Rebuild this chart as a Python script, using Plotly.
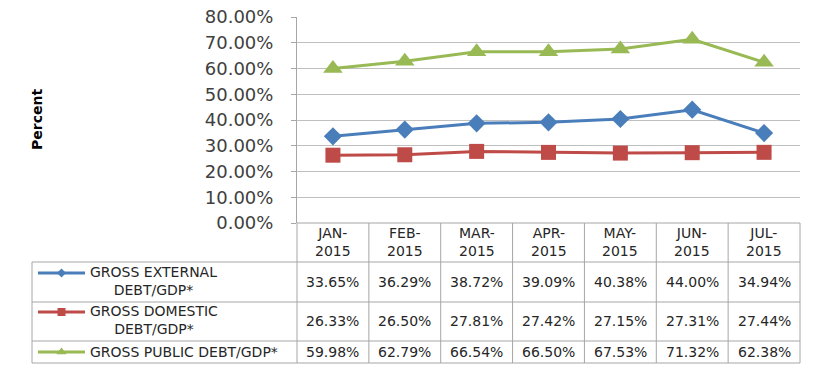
import plotly.graph_objects as go

# ---- data ----
months = ["JAN-2015", "FEB-2015", "MAR-2015", "APR-2015", "MAY-2015", "JUN-2015", "JUL-2015"]
external = [33.65, 36.29, 38.72, 39.09, 40.38, 44.00, 34.94]
domestic = [26.33, 26.50, 27.81, 27.42, 27.15, 27.31, 27.44]
public = [59.98, 62.79, 66.54, 66.50, 67.53, 71.32, 62.38]
series_names = ["GROSS EXTERNAL<br>DEBT/GDP*", "GROSS DOMESTIC<br>DEBT/GDP*", "GROSS PUBLIC DEBT/GDP*"]
y_ticks = [0, 10, 20, 30, 40, 50, 60, 70, 80]

# ---- styles ----
W, H = 823, 369
OFF = 8  # page body margin offset
colors = ["#4A7EBB", "#BE4B48", "#98B954"]
symbols = ["diamond", "square", "triangle-up"]
msizes = [14, 15, 17]
key_sizes = [7, 8, 9]
FONT = "DejaVu Sans"
TXT = "#262626"
BORDER = "#A6A6A6"

# layout geometry (screen pixels of the target, converted by OFF)
def X(v):
    return v - OFF
def Y(v):
    return v - OFF

px_left, px_right = 297, 800
px_top, px_bottom = 17, 223
row_edges = [223, 262, 302, 341, 363]
tbl_left = 32
ncol = len(months)
cw = (px_right - px_left) / ncol

fig = go.Figure()

all_series = [external, domestic, public]
idx = list(range(ncol))
for s, name, c, sym, ms in zip(all_series, series_names, colors, symbols, msizes):
    fig.add_trace(go.Scatter(
        x=idx, y=[v / 100 for v in s], mode="lines+markers",
        line=dict(color=c, width=3), marker=dict(symbol=sym, size=ms, color=c),
        name=name.replace("<br>", " "), xaxis="x", yaxis="y", showlegend=False,
        hoverinfo="skip"))

# legend keys inside the table (pixel overlay axis)
key_y = [273, 312, 352]
for c, sym, ks, ky in zip(colors, symbols, key_sizes, key_y):
    fig.add_trace(go.Scatter(
        x=[X(38), X(61.5), X(85)], y=[Y(ky)] * 3, mode="lines", line=dict(color=c, width=3),
        xaxis="x2", yaxis="y2", showlegend=False, hoverinfo="skip"))
    fig.add_trace(go.Scatter(
        x=[X(61.5)], y=[Y(ky)], mode="markers", marker=dict(symbol=sym, size=ks, color=c),
        xaxis="x2", yaxis="y2", showlegend=False, hoverinfo="skip"))

shapes = []
def hline(y, x0, x1):
    shapes.append(dict(type="line", xref="x2", yref="y2", x0=X(x0), x1=X(x1), y0=Y(y), y1=Y(y),
                       line=dict(color=BORDER, width=1)))
def vline(x, y0, y1):
    shapes.append(dict(type="line", xref="x2", yref="y2", x0=X(x), x1=X(x), y0=Y(y0), y1=Y(y1),
                       line=dict(color=BORDER, width=1)))

hline(row_edges[0], px_left, px_right)
for y in row_edges[1:]:
    hline(y, tbl_left, px_right)
vline(tbl_left, row_edges[1], row_edges[-1])
for i in range(ncol + 1):
    vline(px_left + i * cw, row_edges[0], row_edges[-1])

annotations = []
# header
for i, m in enumerate(months):
    mon, yr = m.split("-")
    annotations.append(dict(xref="x2", yref="y2", x=X(px_left + (i + 0.5) * cw),
                            y=Y(241.5),
                            text=f"{mon}-<br>{yr}", showarrow=False, align="center",
                            font=dict(family=FONT, size=14, color=TXT)))
# rows
val_y = [282, 321, 352]
lab_y = [281, 320, 352]
for r, (s, name) in enumerate(zip(all_series, series_names)):
    annotations.append(dict(xref="x2", yref="y2", x=X(88), y=Y(lab_y[r]), text=name,
                            xanchor="left", align="center", showarrow=False,
                            font=dict(family=FONT, size=14, color=TXT)))
    for i, v in enumerate(s):
        annotations.append(dict(xref="x2", yref="y2", x=X(px_left + (i + 0.5) * cw),
                                y=Y(val_y[r]), text=f"{v:.2f}%", showarrow=False,
                                font=dict(family=FONT, size=14, color=TXT)))
# axis title
annotations.append(dict(xref="x2", yref="y2", x=X(37), y=Y(120), text="<b>Percent</b>",
                        textangle=-90, showarrow=False,
                        font=dict(family=FONT, size=14, color="#000000")))

fig.update_layout(
    width=W, height=H, margin=dict(l=0, r=0, t=0, b=0, autoexpand=False),
    paper_bgcolor="white", plot_bgcolor="rgba(0,0,0,0)",
    xaxis=dict(domain=[X(px_left) / W, X(px_right) / W], range=[-0.5, ncol - 0.5],
               showgrid=False, showticklabels=False, zeroline=False, showline=False,
               ticks="", fixedrange=True, automargin=False),
    yaxis=dict(domain=[1 - Y(px_bottom) / H, 1 - Y(px_top) / H], range=[0, 0.8],
               tickvals=[t / 100 for t in y_ticks], tickformat=".2%",
               showgrid=True, gridcolor="#BFBFBF", gridwidth=1, zeroline=False,
               showline=True, linecolor=BORDER, linewidth=1,
               ticks="outside", ticklen=5, tickcolor=BORDER,
               ticklabelstandoff=14, automargin=False, ticklabeloverflow="allow",
               tickfont=dict(family=FONT, size=18, color="#404040"), fixedrange=True),
    xaxis2=dict(domain=[0, 1], range=[0, W], visible=False, anchor="y2",
                fixedrange=True, automargin=False),
    yaxis2=dict(domain=[0, 1], range=[H, 0], visible=False, anchor="x2",
                fixedrange=True, automargin=False),
    shapes=shapes, annotations=annotations, showlegend=False,
)

fig.write_html("out.html")
